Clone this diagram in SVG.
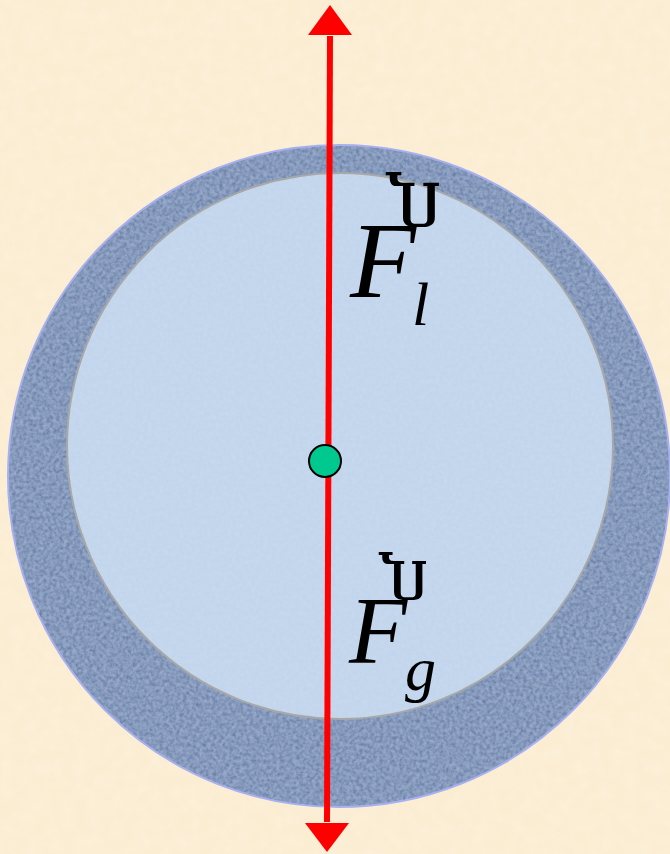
<svg xmlns="http://www.w3.org/2000/svg" width="670" height="854" viewBox="0 0 670 854">
<defs>
<style>
.lbl{font-family:"Liberation Serif","Times New Roman",serif;font-style:italic;fill:#000}
.vec{font-family:"DejaVu Serif","Liberation Serif",serif;fill:#000}
</style>
<filter id="tex" x="0" y="0" width="100%" height="100%">
<feTurbulence type="fractalNoise" baseFrequency="0.3" numOctaves="2" seed="3" result="n"/>
<feColorMatrix in="n" type="matrix" values="0 0 0 0 0  0 0 0 0 0  0 0 0 0 0  0 0 0 1.6 -0.55" result="a"/>
<feComposite in="SourceGraphic" in2="a" operator="in"/>
</filter>
<filter id="tex2" x="0" y="0" width="100%" height="100%">
<feTurbulence type="fractalNoise" baseFrequency="0.08" numOctaves="2" seed="7" result="n"/>
<feColorMatrix in="n" type="matrix" values="0 0 0 0 1  0 0 0 0 1  0 0 0 0 1  0 0 0 0.5 -0.15" result="a"/>
<feComposite in="SourceGraphic" in2="a" operator="in"/>
</filter>
<filter id="tex3" x="0" y="0" width="100%" height="100%">
<feTurbulence type="fractalNoise" baseFrequency="0.25" numOctaves="2" seed="11" result="n"/>
<feColorMatrix in="n" type="matrix" values="0 0 0 0 1  0 0 0 0 1  0 0 0 0 1  0 0 0 0.8 -0.25" result="a"/>
<feComposite in="SourceGraphic" in2="a" operator="in"/>
</filter>
</defs>
<rect width="670" height="854" fill="#fbedd2"/>
<rect width="670" height="854" fill="#ffffff" filter="url(#tex2)" opacity="0.5"/>
<g id="outer-shell">
<circle cx="339" cy="476" r="331" fill="#8a9ec0" stroke="#a8b0f0" stroke-width="2"/>
<circle cx="339" cy="476" r="330" fill="#4a6290" filter="url(#tex)" opacity="0.7"/>
<circle cx="339" cy="476" r="330" fill="#d0dcec" filter="url(#tex3)" opacity="0.6"/>
</g>
<g id="inner-core">
<circle cx="340" cy="446" r="273" fill="#c2d5ec" stroke="#a8a8a8" stroke-width="2"/>
<circle cx="340" cy="446" r="272" fill="#e8f0fa" filter="url(#tex3)" opacity="0.35"/>
</g>
<g id="connectors">
<line x1="330" y1="36" x2="327" y2="822" stroke="#ff0000" stroke-width="6"/>
<polygon points="330,5 352,35 308,35" fill="#ff0000"/>
<polygon points="327,852 349,823 305,823" fill="#ff0000"/>
</g>
<g id="center">
<circle cx="325" cy="461" r="16" fill="#00c98f" stroke="#000" stroke-width="2"/>
</g>
<g id="label-Fl">
<text class="vec" x="385" y="227" font-size="64">Ⴎ</text>
<text class="lbl" x="350" y="297" font-size="108">F</text>
<text class="lbl" x="412" y="325" font-size="62">l</text>
</g>
<g id="label-Fg">
<text class="vec" x="378" y="600" font-size="57">Ⴎ</text>
<text class="lbl" x="349" y="663" font-size="95">F</text>
<text class="lbl" x="405" y="690" font-size="62">g</text>
</g>
</svg>
